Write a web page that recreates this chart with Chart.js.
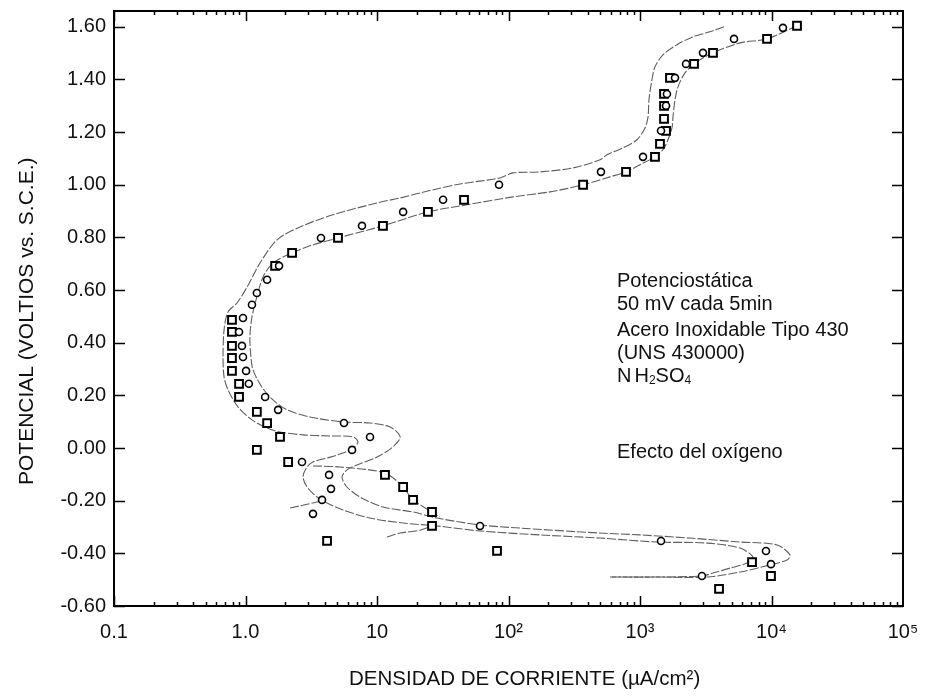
<!DOCTYPE html>
<html>
<head>
<meta charset="utf-8">
<script src="https://cdn.jsdelivr.net/npm/chart.js@4.4.0/dist/chart.umd.min.js"></script>
<style>
  html, body { margin: 0; padding: 0; background: #fff; }
  #wrap { width: 926px; height: 698px; }
</style>
</head>
<body>
<div id="wrap"><canvas id="chart" width="926" height="698"></canvas></div>
<script>
'use strict';
// axis ticks
const xTicks = [0.1, 1, 10, 100, 1000, 10000, 100000];
const xTickLabels = ['0.1', '1.0', '10', '10\u00b2', '10\u00b3', '10\u2074', '10\u2075'];
const yTicks = [-0.6, -0.4, -0.2, 0, 0.2, 0.4, 0.6, 0.8, 1.0, 1.2, 1.4, 1.6];
const xTitle = 'DENSIDAD DE CORRIENTE (µA/cm²)';
const yTitle = 'POTENCIAL (VOLTIOS vs. S.C.E.)';

// curves [current density uA/cm2, potential V]
const curveA = [
  [4360,1.600],[3400,1.581],[2530,1.562],[1910,1.532],[1500,1.494],[1300,1.448],[1233,1.399],
  [1170,1.323],[1151,1.258],[1091,1.216],[948,1.171],[743,1.140],[561,1.114],[497,1.095],
  [309,1.064],[174,1.049],[108,1.045],[86.1,1.026],[42.8,1.003],[26.7,0.981],[15.0,0.950],
  [10.0,0.931],[4.63,0.886],[2.60,0.840],[1.74,0.791],[1.29,0.703],[1.03,0.612],[0.861,0.551],
  [0.736,0.517],[0.687,0.449],[0.675,0.346],[0.687,0.270],[0.736,0.221],[0.877,0.156],
  [1.12,0.107],[1.46,0.076],[1.83,0.061],[2.74,0.050],[4.39,0.046],[6.57,0.042],[7.17,0.023],
  [6.57,0.000],[5.51,-0.019],[4.17,-0.038],[3.26,-0.053],[2.94,-0.072],[2.74,-0.110],
  [2.94,-0.148],[3.50,-0.186],[4.17,-0.209],[5.51,-0.235],[8.85,-0.266],[15.8,-0.285],
  [28.6,-0.296],[60.7,-0.315],[174,-0.330],[497,-0.342],[1346,-0.357],[3236,-0.361],
  [5754,-0.380],[7228,-0.414],[6516,-0.437],[4831,-0.456],[3589,-0.475],[2958,-0.486],
  [1346,-0.490],[591,-0.490]
];
const curveB = [
  [15630,1.604],[9247,1.554],[5754,1.539],[3589,1.501],[2858,1.475],[2576,1.459],[2198,1.425],
  [1945,1.372],[1846,1.323],[1782,1.258],[1750,1.216],[1633,1.171],[1496,1.133],[1300,1.106],
  [1000,1.076],[783,1.049],[591,1.030],[369,1.000],[207,0.973],[108,0.954],[48.3,0.924],
  [24.4,0.897],[11.1,0.844],[5.05,0.798],[3.09,0.768],[2.26,0.741],[1.62,0.703],[1.36,0.650],
  [1.22,0.574],[1.12,0.498],[1.08,0.422],[1.10,0.346],[1.14,0.297],[1.33,0.232],[1.62,0.183],
  [2.07,0.145],[3.09,0.118],[5.51,0.099],[8.85,0.095],[12.6,0.080],[15.0,0.042],[13.2,0.004],
  [10.0,-0.034],[7.04,-0.064],[5.91,-0.083],[5.42,-0.110],[5.91,-0.148],[7.43,-0.186],
  [11.1,-0.224],[18.8,-0.243],[28.6,-0.266],[60.7,-0.292],[122,-0.304],[497,-0.323],
  [1000,-0.330],[2399,-0.342],[5754,-0.357],[11020,-0.368],[13830,-0.406],[13120,-0.425],
  [9750,-0.444],[5754,-0.471],[3236,-0.490],[1346,-0.490],[591,-0.490]
];
// short extra pieces of line
const tail1 = [[2.18,-0.228],[3.82,-0.201]];
const tail2 = [[3.26,-0.068],[5.23,-0.072],[11.5,-0.095],[15.8,-0.148],[18.8,-0.197],[26.2,-0.243],[30.1,-0.262]];
const tail3 = [[11.9,-0.338],[15.0,-0.323],[21.2,-0.312],[26.2,-0.296]];

// measured points
const circles = [
  [12220,1.596],[5188,1.554],[3013,1.501],[2239,1.459],[1846,1.406],[1603,1.345],[1578,1.300],
  [1445,1.205],[1054,1.106],[505,1.049],[84.7,1.000],[31.8,0.943],[15.8,0.897],[7.69,0.844],
  [3.75,0.798],[1.80,0.692],[1.46,0.639],[1.22,0.589],[1.12,0.544],[0.957,0.494],[0.893,0.441],
  [0.940,0.388],[0.957,0.346],[1.01,0.293],[1.06,0.244],[1.41,0.194],[1.77,0.145],[5.61,0.095],
  [8.85,0.042],[6.46,-0.007],[2.69,-0.053],[4.32,-0.102],[4.47,-0.155],[3.82,-0.197],
  [3.26,-0.250],[60.7,-0.296],[1445,-0.353],[9078,-0.391],[9910,-0.441],[2958,-0.486]
];
const squares = [
  [15630,1.604],[9247,1.554],[3589,1.501],[2576,1.459],[1690,1.406],[1523,1.345],[1523,1.300],
  [1523,1.250],[1578,1.205],[1419,1.155],[1300,1.106],[783,1.049],[369,1.000],[45.9,0.943],
  [24.4,0.897],[11.1,0.844],[5.05,0.798],[2.26,0.741],[1.68,0.692],[0.789,0.487],[0.789,0.441],
  [0.789,0.388],[0.789,0.342],[0.789,0.293],[0.893,0.244],[0.893,0.194],[1.22,0.137],
  [1.46,0.095],[1.83,0.042],[1.22,-0.007],[2.11,-0.053],[11.5,-0.102],[15.8,-0.148],
  [18.8,-0.197],[26.2,-0.243],[26.2,-0.296],[4.17,-0.353],[81.8,-0.391],[7112,-0.433],
  [9910,-0.486],[3990,-0.535]
];

const toXY = arr => arr.map(p => ({x: p[0], y: p[1]}));

function lineSet(arr) {
  return {
    data: toXY(arr),
    borderColor: '#5f5f5f',
    borderWidth: 1.1,
    borderDash: [9, 2],
    pointRadius: 0,
    tension: 0.3,
    fill: false,
    order: 2
  };
}

const fontFamily = '"Liberation Sans", Arial, sans-serif';
Chart.defaults.font.family = fontFamily;
Chart.defaults.font.size = 20;
Chart.defaults.color = '#111';

const frameAndText = {
  id: 'frameAndText',
  afterDatasetsDraw(chart) {
    const {ctx, chartArea: a, scales: {x, y}} = chart;
    ctx.save();
    ctx.strokeStyle = '#000';
    ctx.lineWidth = 2;
    ctx.strokeRect(a.left, a.top, a.right - a.left, a.bottom - a.top);
    ctx.lineWidth = 1.5;
    ctx.beginPath();
    for (let d = -1; d < 5; d++) {
      for (let k = 1; k < 10; k++) {
        const px = Math.round(x.getPixelForValue(k * Math.pow(10, d))) + 0.5;
        const len = k === 1 ? 10 : 4;
        ctx.moveTo(px, a.bottom); ctx.lineTo(px, a.bottom - len);
        ctx.moveTo(px, a.top); ctx.lineTo(px, a.top + len);
      }
    }
    yTicks.forEach(v => {
      const py = Math.round(y.getPixelForValue(v)) + 0.5;
      ctx.moveTo(a.left, py); ctx.lineTo(a.left + 11, py);
      ctx.moveTo(a.right, py); ctx.lineTo(a.right - 11, py);
    });
    ctx.stroke();

    ctx.fillStyle = '#111';
    ctx.textBaseline = 'alphabetic';
    ctx.textAlign = 'left';

    // axis titles
    ctx.font = '20.5px ' + fontFamily;
    ctx.fillText(xTitle, a.left + 235, a.bottom + 79);
    ctx.save();
    ctx.translate(33, a.bottom - 121);
    ctx.rotate(-Math.PI / 2);
    ctx.font = '21px ' + fontFamily;
    ctx.fillText(yTitle, 0, 0);
    ctx.restore();

    // annotation block
    const tx = a.left + 503;
    ctx.font = '20px ' + fontFamily;
    ctx.fillText('Potenciostática', tx, a.top + 276);
    ctx.fillText('50 mV cada 5min', tx, a.top + 299);
    ctx.fillText('Acero Inoxidable Tipo 430', tx, a.top + 325);
    ctx.fillText('(UNS 430000)', tx, a.top + 348);
    ctx.fillText('Efecto del oxígeno', tx, a.top + 447);
    // N H2SO4 with subscripts
    const by = a.top + 371;
    let cx = tx;
    const piece = (s, small) => {
      ctx.font = (small ? '12px ' : '20px ') + fontFamily;
      ctx.fillText(s, cx, small ? by + 2 : by);
      cx += ctx.measureText(s).width;
    };
    piece('N'); cx += 3;
    piece('H'); piece('2', true); piece('S'); piece('O'); piece('4', true);
    ctx.restore();
  }
};

function noPad(s) {
  s.paddingTop = 0; s.paddingBottom = 0; s.paddingLeft = 0; s.paddingRight = 0;
}

new Chart(document.getElementById('chart'), {
  type: 'line',
  data: {
    datasets: [
      {data: toXY(circles), showLine: false, pointStyle: 'circle', pointRadius: 3.5,
       pointBorderWidth: 1.6, pointBorderColor: '#000', pointBackgroundColor: '#fff', order: 0},
      {data: toXY(squares), showLine: false, pointStyle: 'rect', pointRadius: 5.5,
       pointBorderWidth: 2, pointBorderColor: '#000', pointBackgroundColor: '#fff', order: 1},
      lineSet(curveA), lineSet(curveB), lineSet(tail1), lineSet(tail2), lineSet(tail3)
    ]
  },
  options: {
    responsive: false,
    animation: false,
    layout: {padding: {top: 11, right: 23, left: 0, bottom: 0}},
    plugins: {legend: {display: false}, tooltip: {enabled: false}},
    scales: {
      x: {
        type: 'logarithmic',
        min: 0.1,
        max: 100000,
        grid: {display: false, drawTicks: false},
        border: {display: false},
        afterBuildTicks: s => { s.ticks = xTicks.map(v => ({value: v})); },
        afterFit: s => { s.height = 92; noPad(s); },
        ticks: {
          padding: 14,
          maxRotation: 0,
          autoSkip: false,
          callback: (v, i) => xTickLabels[i]
        }
      },
      y: {
        type: 'linear',
        min: -0.6,
        max: 1.66,
        grid: {display: false, drawTicks: false},
        border: {display: false},
        afterBuildTicks: s => { s.ticks = yTicks.map(v => ({value: v})); },
        afterFit: s => { s.width = 114; noPad(s); },
        ticks: {
          padding: 8,
          autoSkip: false,
          callback: v => v.toFixed(2)
        }
      }
    }
  },
  plugins: [frameAndText]
});
</script>
</body>
</html>
